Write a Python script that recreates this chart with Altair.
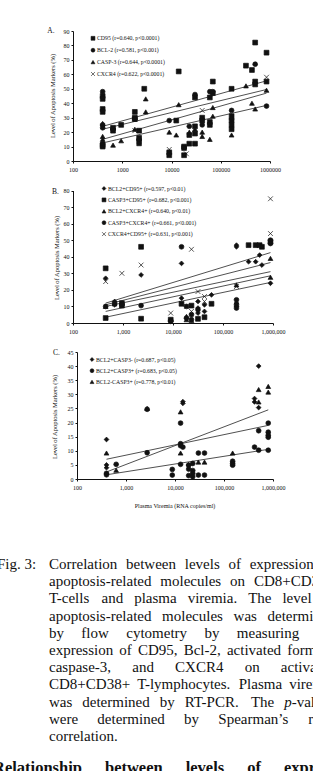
import altair as alt
import pandas as pd

# ======================= DATA =======================
# ---- Panel A ----
A_names = ["CD95", "BCL-2", "CASP-3", "CXCR4"]
A_labels = ["CD95 (r=0.640, p<0.0001)", "BCL-2 (r=0.581, p<0.001)",
            "CASP-3 (r=0.644, p<0.0001)", "CXCR4 (r=0.622, p<0.0001)"]
A_cd95_x = [400, 400, 400, 400, 400, 400, 650, 650, 950, 1800, 1800, 1800, 2200, 2200, 2200, 2800,
            9000, 9000, 12500, 14000, 18000, 18000, 18000, 23000, 23000, 30000, 30000, 30000, 30000,
            42000, 42000, 60000, 60000, 60000, 69000, 69000, 166000, 166000, 166000, 166000, 166000,
            325000, 430000, 500000, 500000, 500000, 850000, 850000]
A_cd95_y = [45, 43, 36, 34, 11, 10, 23, 21, 25, 34, 30, 29, 21, 16, 13, 50,
            6, 4, 28, 62, 10, 9, 4, 18, 12, 44, 24, 19, 12,
            30, 28, 44, 27, 25, 55, 47, 50, 31, 28, 25, 22,
            66, 63, 82, 55, 53, 75, 55]
A_bcl2_x = [400, 400, 400, 400, 650, 1800, 2200, 9000, 23000, 30000, 42000, 60000, 69000, 166000, 500000, 850000]
A_bcl2_y = [48, 25, 23, 12, 22, 29, 15, 28, 24, 46, 25, 48, 48, 35, 67, 38]
A_casp3_x = [400, 400, 400, 650, 950, 1800, 2200, 3000, 3000, 9000, 12500, 14000, 23000, 30000,
             42000, 42000, 60000, 69000, 69000, 166000, 166000, 325000, 430000, 500000, 850000]
A_casp3_y = [26, 17, 15, 11, 14, 22, 12, 43, 34, 20, 18, 39, 20, 22,
             20, 17, 15, 37, 31, 30, 18, 52, 40, 36, 49]
A_cxcr4_x = [400, 1800, 9000, 20000, 42000, 850000]
A_cxcr4_y = [24, 21, 8, 5, 35, 58]
A_fit_x = [400, 850000]
A_fit_y = [[24, 55.5], [12.5, 38.5], [15, 47], [22, 49.5]]

# ---- Panel B ----
B_names = ["BCL2+CD95+", "CASP3+CD95+", "BCL2+CXCR4+", "CASP3+CXCR4+", "CXCR4+CD95+"]
B_labels = ["BCL2+CD95+ (r=0.597, p<0.01)", "CASP3+CD95+ (r=0.682, p<0.001)",
            "BCL2+CXCR4+ (r=0.640, p<0.01)", "CASP3+CXCR4+ (r=0.661, p<0.001)",
            "CXCR4+CD95+ (r=0.631, p<0.001)"]
B_d_x = [450, 680, 680, 2300, 14800, 14800, 31600, 31600, 31600, 42600, 42600, 58900,
         186000, 186000, 186000, 186000, 325000, 450000, 540000, 600000, 890000]
B_d_y = [27, 13, 11, 29, 36, 15, 13, 9, 6, 11, 7, 17, 47, 46, 12, 10, 37, 37, 41, 35, 24]
B_s_x = [450, 450, 950, 950, 2300, 2300, 9000, 14800, 23400, 31600, 42600, 58900,
         325000, 450000, 540000, 600000, 890000]
B_s_y = [33, 3, 12, 10.5, 46, 2.6, 2, 11.6, 10.5, 2.5, 3.5, 11.6, 47, 47, 47, 46, 49]
B_t_x = [450, 680, 18600, 18600, 23400, 186000, 890000, 890000]
B_t_y = [10, 11.5, 4, 2, 1.5, 23, 39, 27.6]
B_c_x = [450, 680, 950, 2300, 9000, 9000, 14800, 18600, 18600, 23400, 23400, 31600,
         186000, 186000, 186000, 890000, 890000]
B_c_y = [10, 12, 11, 10.5, 1.5, 1, 46, 10, 3, 5, 2, 8, 14, 11, 9, 50, 48]
B_x_x = [450, 950, 2300, 9000, 18600, 23400, 23400, 31600, 42600, 42600, 186000, 890000, 890000]
B_x_y = [25, 30, 35, 6, 10, 44.5, 7, 19, 16, 13, 22, 75, 54]
B_fit_x = [450, 890000]
B_fit_y = [[11, 36.5], [12, 42.5], [7, 28.5], [3.5, 24.5], [10, 31]]

# ---- Panel C ----
C_names = ["BCL2+CASP3-", "BCL2+CASP3+", "BCL2-CASP3+"]
C_labels = ["BCL2+CASP3- (r=0.687, p<0.05)", "BCL2+CASP3+ (r=0.683, p<0.05)",
            "BCL2-CASP3+ (r=0.778, p<0.01)"]
C_d_x = [400, 400, 400, 14500, 14500, 19000, 420000, 420000, 510000, 510000]
C_d_y = [14, 5, 4, 27.4, 26.8, 5, 28.5, 27.3, 40, 25.3]
C_c_x = [400, 400, 630, 2700, 2700, 8800, 8800, 13000, 13000, 13000, 13000, 14500,
         19000, 19000, 19000, 23000, 23000, 23000, 23000, 30000, 30000, 40000, 40000,
         150000, 150000, 150000, 420000, 510000, 510000, 800000, 800000, 800000, 800000, 800000]
C_c_y = [2, 1.5, 5.2, 24.7, 9.3, 3.4, 1.4, 19.8, 12.5, 11.8, 5.2, 11.3,
         4.9, 3.5, 1.2, 5.5, 3, 2, 0.8, 9.2, 1.4, 9.2, 1.4,
         6.3, 5.5, 4.9, 11.3, 17.1, 10.2, 19.8, 16.6, 15.5, 14.8, 10.2]
C_t_x = [400, 630, 2700, 13000, 13000, 30000, 40000, 150000, 510000, 510000, 800000, 800000]
C_t_y = [9.2, 3.1, 25, 23.8, 9.2, 6, 6, 9.2, 31.7, 27.3, 32.8, 30.8]
C_fit_x = [400, 800000]
C_fit_y = [[7, 19], [1.5, 10.5], [2.5, 24.5]]

# ---- texts ----
x_ticks = [100, 1000, 10000, 100000, 1000000]
y_title = "Level of Apoptosis Markers (%)"
x_title = "Plasma Viremia (RNA copies/ml)"
fig_label = "Fig. 3:"
caption_lines = [
    "Correlation between levels of expression of",
    "apoptosis-related molecules on CD8+CD38+",
    "T-cells and plasma viremia. The level of",
    "apoptosis-related molecules was determined",
    "by flow cytometry by measuring the",
    "expression of CD95, Bcl-2, activated form of",
    "caspase-3, and CXCR4 on activated",
    "CD8+CD38+ T-lymphocytes. Plasma viremia",
    "was determined by RT-PCR. The *p*-values",
    "were determined by Spearman\u2019s rank",
    "correlation.",
]
heading = "Relationship between levels of expression of"

# ======================= STYLE =======================
W, H = 313, 771
FONT = "Liberation Serif"
INK = "#111111"
LINE = "#3c3c3c"
X_PATH = "M-1,-1L1,1M-1,1L1,-1"
A_shapes = ["square", "circle", "triangle-up", X_PATH]
B_shapes = ["diamond", "square", "triangle-up", "circle", X_PATH]
C_shapes = ["diamond", "circle", "triangle-up"]

TIMES = {' ': 250, '(': 333, ')': 333, '+': 564, ',': 250, '-': 333, '.': 250, '/': 278, ':': 278,
         '\u2019': 333, "'": 180, '%': 833, '<': 564, '=': 564,
         'A': 722, 'B': 667, 'C': 667, 'D': 722, 'E': 611, 'F': 556, 'G': 722, 'H': 722, 'I': 333,
         'J': 389, 'K': 722, 'L': 611, 'M': 889, 'N': 722, 'O': 722, 'P': 556, 'Q': 722, 'R': 667,
         'S': 556, 'T': 611, 'U': 722, 'V': 722, 'W': 944, 'X': 722, 'Y': 722, 'Z': 611,
         'a': 444, 'b': 500, 'c': 444, 'd': 500, 'e': 444, 'f': 333, 'g': 500, 'h': 500, 'i': 278,
         'j': 278, 'k': 500, 'l': 278, 'm': 778, 'n': 500, 'o': 500, 'p': 500, 'q': 500, 'r': 333,
         's': 389, 't': 278, 'u': 500, 'v': 500, 'w': 722, 'x': 500, 'y': 500, 'z': 444}
TIMES_BOLD = dict(TIMES)
TIMES_BOLD.update({'R': 722, 'a': 500, 'b': 556, 'd': 556, 'h': 556, 'n': 556, 'p': 556, 'r': 444,
                   't': 333, 'u': 556, 'l': 278})


def tw(s, table, size):
    return sum(table.get(c, 500) for c in s) / 1000.0 * size


def layout_line(line, x0, x1, size, table, justify, y, kind="normal"):
    words = line.split(" ")
    widths = [tw(w.replace("*", ""), table, size) for w in words]
    if justify and len(words) > 1:
        gap = (x1 - x0 - sum(widths)) / (len(words) - 1)
    else:
        gap = table[' '] / 1000.0 * size
    rows, x = [], x0
    for w, wd in zip(words, widths):
        sx = x
        for k, seg in enumerate(w.split("*")):
            if seg:
                rows.append({"word": seg, "px": sx, "py": y,
                             "kind": "italic" if k % 2 == 1 else kind})
                sx += tw(seg, table, size)
        x += wd + gap
    return rows


def axis_x(fmt, ybottom):
    return alt.Axis(orient="bottom", offset=ybottom - H, values=x_ticks, format=fmt, title=None,
                    grid=False, labelFont=FONT, labelFontSize=6, labelColor=INK, labelFlush=False,
                    labelOverlap=False, tickSize=2, tickColor=INK, domainColor=INK, domainWidth=1,
                    labelPadding=3)


def axis_y(xleft, ymax, step):
    return alt.Axis(orient="left", offset=-xleft, values=list(range(0, ymax + 1, step)), title=None,
                    grid=False, labelFont=FONT, labelFontSize=6, labelColor=INK, tickSize=2,
                    tickColor=INK, domainColor=INK, domainWidth=1, labelPadding=2)


def panel(names, shapes, sx, sy, fit_x, fit_y, xr, yr, ymax, step, fmt, labels, leg):
    pts = pd.DataFrame([{"x": x, "y": y, "series": n}
                        for n, xs, ys in zip(names, sx, sy) for x, y in zip(xs, ys)])
    fits = pd.DataFrame([{"x": x, "y": y, "series": n}
                         for n, ys in zip(names, fit_y) for x, y in zip(fit_x, ys)])
    lg = pd.DataFrame({"series": names, "label": labels, "i": list(range(len(names)))})
    xs = alt.Scale(type="log", domain=[100, 1000000], range=xr)
    ys = alt.Scale(domain=[0, ymax], range=yr, nice=False)
    ss = alt.Scale(domain=names, range=shapes)
    ax, ay = axis_x(fmt, yr[0]), axis_y(xr[0], ymax, step)
    enc = dict(x=alt.X("x:Q", scale=xs, axis=ax), y=alt.Y("y:Q", scale=ys, axis=ay))
    points = alt.Chart(pts).mark_point(filled=True, color=INK, stroke=INK, strokeWidth=0.7,
                                       size=23, opacity=1).encode(
        shape=alt.Shape("series:N", scale=ss, legend=None), **enc)
    lines = alt.Chart(fits).mark_line(color=LINE, strokeWidth=0.9).encode(
        detail="series:N", **enc)
    sym_x, txt_x, y0, dy, fs = leg
    base = alt.Chart(lg).transform_calculate(ly=f"{y0} + datum.i * {dy}")
    lsym = base.mark_point(filled=True, color=INK, stroke=INK, strokeWidth=0.6, size=15,
                           opacity=1).encode(
        x=alt.value(sym_x), y=alt.Y("ly:Q", scale=None),
        shape=alt.Shape("series:N", scale=ss, legend=None))
    ltxt = base.mark_text(align="left", baseline="middle", font=FONT, fontSize=fs,
                          color=INK).encode(
        x=alt.value(txt_x), y=alt.Y("ly:Q", scale=None), text="label:N")
    return alt.layer(lines, points, lsym, ltxt)


def label(text, x, y, size=6.5, angle=0, align="center", weight="normal"):
    kw = dict(text=text, font=FONT, fontSize=size, align=align, baseline="middle",
              color=INK, fontWeight=weight)
    if angle:
        kw["angle"] = angle
    return alt.Chart(alt.Data(values=[{}])).mark_text(**kw).encode(
        x=alt.value(x), y=alt.value(y))


pA = panel(A_names, A_shapes, [A_cd95_x, A_bcl2_x, A_casp3_x, A_cxcr4_x],
           [A_cd95_y, A_bcl2_y, A_casp3_y, A_cxcr4_y], A_fit_x, A_fit_y,
           [73, 270], [161, 31], 90, 10, "d", A_labels, (93, 97, 38.3, 11.9, 5.8))
pB = panel(B_names, B_shapes, [B_d_x, B_s_x, B_t_x, B_c_x, B_x_x],
           [B_d_y, B_s_y, B_t_y, B_c_y, B_x_y], B_fit_x, B_fit_y,
           [73, 273], [323, 190.5], 80, 10, ",d", B_labels, (104, 108, 188.5, 11.4, 5.8))
pC = panel(C_names, C_shapes, [C_d_x, C_c_x, C_t_x], [C_d_y, C_c_y, C_t_y], C_fit_x, C_fit_y,
           [77, 273], [479, 352], 45, 5, ",d", C_labels, (92, 96, 359.5, 11.2, 5.8))

labels = [
    label("A.", 51, 31, size=7.5), label("B.", 55.5, 192, size=7.5), label("C.", 56.5, 352.5, size=7.5),
    label(y_title, 53, 96, angle=270), label(y_title, 57, 258, angle=270),
    label(y_title, 55, 417, angle=270), label(x_title, 175, 506, size=6),
]

# ---- caption layout ----
CAP = 15
rows = [{"word": fig_label, "px": -3, "py": 569, "kind": "normal"}]
for i, ln in enumerate(caption_lines):
    rows += layout_line(ln, 49, 335, CAP, TIMES, i < len(caption_lines) - 1, 569 + 17.2 * i)
rows += layout_line(heading, -7, 395, 16.5, TIMES_BOLD, True, 773, kind="bold")
cap = pd.DataFrame(rows)


def cap_layer(kind, size, **kw):
    return alt.Chart(cap).transform_filter(f"datum.kind == '{kind}'").mark_text(
        align="left", baseline="alphabetic", font=FONT, fontSize=size, color=INK, **kw).encode(
        x=alt.X("px:Q", scale=None), y=alt.Y("py:Q", scale=None), text="word:N")


caps = [cap_layer("normal", CAP), cap_layer("italic", CAP, fontStyle="italic"),
        cap_layer("bold", 16.5, fontWeight="bold")]

chart = alt.layer(pA, pB, pC, *labels, *caps).resolve_scale(
    x="independent", y="independent", shape="independent"
).properties(
    width=W, height=H, padding=0, autosize=alt.AutoSizeParams(type="none"), background="white"
).configure_view(stroke=None)

chart.save("out.html", embed_options={"renderer": "svg", "actions": False})
